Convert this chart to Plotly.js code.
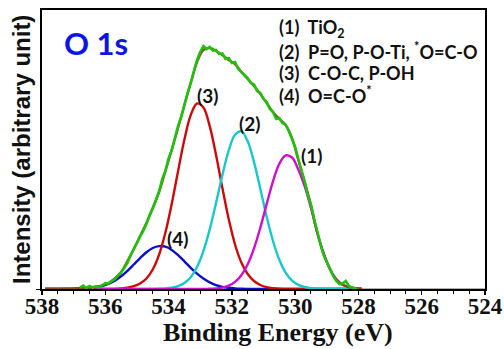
<!DOCTYPE html>
<html>
<head>
<meta charset="utf-8">
<script src="https://cdn.plot.ly/plotly-3.0.1.min.js"></script>
<style>html,body{margin:0;padding:0;background:#fff;}#chart{width:504px;height:349px;}</style>
</head>
<body>
<div id="chart"></div>
<script>
// Binding energy grid for fitted components (eV)
const fitEnergy = [537.9,537.7,537.5,537.3,537.1,536.9,536.7,536.5,536.3,536.1,535.9,535.7,535.5,535.3,535.1,534.9,534.7,534.5,534.3,534.1,533.9,533.7,533.5,533.3,533.1,532.9,532.7,532.5,532.3,532.1,531.9,531.7,531.5,531.3,531.1,530.9,530.7,530.5,530.3,530.1,529.9,529.7,529.5,529.3,529.1,528.9,528.7,528.5,528.3,528.1,527.9];
// (1) TiO2
const peak1 = [0,0,0,0,0,0,0,0,0,0,0,0,0,0,0,0,0,0,0,0,0,0,0,0,0,0,0.2,0.6,1.4,3.3,7.1,13.8,24.7,40.7,61.3,84.9,107.6,125.2,133.6,131.5,119.5,103,81,56,36,20,10,4.5,2.0,0.8,0.3];
// (2) P=O, P-O-Ti, *O=C-O
const peak2 = [0,0,0,0,0,0,0,0,0,0,0,0,0,0,0,0,0,0.1,0.2,0.5,1.2,2.8,6.0,11.8,22.0,37.8,59.6,86.0,113.9,138.4,154.2,157.6,147.7,126.9,100.1,72.3,48.0,29.2,16.3,8.3,4.2,2.0,0.9,0.3,0.1,0,0,0,0,0,0];
// (3) C-O-C, P-OH
const peak3 = [0,0,0,0,0,0,0,0,0,0,0,0.1,0.5,1.2,2.8,5.5,10.5,19.5,34.3,56.5,85.2,117.8,149.4,173.9,185.5,181.5,162.9,134.1,101.2,70.1,44.5,26.5,15,8,4,1.8,0.8,0.3,0.1,0,0,0,0,0,0,0,0,0,0,0,0];
// (4) O=C-O*
const peak4 = [0,0,0,0,0.1,0.2,0.4,0.8,1.6,3.0,5.1,8.3,12.7,18.2,24.5,30.9,36.7,41.0,42.9,42.3,39.1,33.9,27.7,21.2,15.3,10.4,6.6,3.9,2.2,1.2,0.6,0.3,0.1,0,0,0,0,0,0,0,0,0,0,0,0,0,0,0,0,0,0];
// Fitted envelope
const envelope = [0,0,0,0.2,0.4,0.7,1.0,1.5,2.2,3.5,6,10.5,17,28,40,53,66,81,97,118,139,161,184,206,227,239,241,238,234,229,225,217,210,203,195,186,177,170,164,151,129,107,84,56,35,20,9,4,2,0.5,0];
// Measured spectrum
const dataEnergy = [536.8,536.7,536.6,536.5,536.4,536.3,536.2,536.1,536.0,535.9,535.8,535.7,535.6,535.5,535.4,535.3,535.2,535.1,535.0,534.9,534.8,534.7,534.6,534.5,534.4,534.3,534.2,534.1,534.0,533.9,533.8,533.7,533.6,533.5,533.4,533.3,533.2,533.1,533.0,532.9,532.8,532.7,532.6,532.5,532.4,532.3,532.2,532.1,532.0,531.9,531.8,531.7,531.6,531.5,531.4,531.3,531.2,531.1,531.0,530.9,530.8,530.7,530.6,530.5,530.4,530.3,530.2,530.1,530.0,529.9,529.8,529.7,529.6,529.5,529.4,529.3,529.2,529.1,529.0,528.9,528.8,528.7,528.6,528.5,528.4,528.3,528.2,528.1,528.0];
const dataIntensity = [1.5,3.5,1.0,3.0,1.5,2.5,1.5,3.5,6.0,5.5,7.5,10.0,13.5,16.5,21.0,26.0,33.5,39.0,46.0,52.5,58.0,65.0,74.0,80.5,89.0,97.5,110.0,118.0,130.5,139.0,151.0,163.0,172.0,185.0,196.0,206.0,218.0,229.0,237.0,243.0,240.0,242.0,238.5,239.0,235.0,235.5,230.0,231.0,226.0,227.0,220.0,217.0,213.0,211.0,206.0,204.5,198.0,196.0,190.0,187.0,180.0,177.0,170.0,171.0,166.0,164.0,158.0,150.0,142.0,130.0,119.0,108.0,94.0,84.0,70.0,56.0,45.0,34.0,26.0,20.0,13.0,8.0,5.0,5.5,8.0,3.0,1.5,0.5,-1.5];
// Background baseline
const baselineEnergy = [537.5, 524];
const baselineIntensity = [0, 0];

const legendLines = [
  "(1)\u00a0\u00a0TiO<sub>2</sub>",
  "(2)\u00a0\u00a0P=O, P-O-Ti, <sup>*</sup>O=C-O",
  "(3)\u00a0\u00a0C-O-C, P-OH",
  "(4)\u00a0\u00a0O=C-O<sup>*</sup>"
];
const peakLabels = ["(1)", "(2)", "(3)", "(4)"];
const peakLabelX = [529.48, 531.44, 532.78, 533.72];
const peakLabelY = [134, 166, 194, 51];

const W = 2.4;
const traces = [
  {x: baselineEnergy, y: baselineIntensity, mode: 'lines', line: {color: '#9a9a9a', width: 1.5}},
  {x: fitEnergy, y: peak4, mode: 'lines', line: {color: '#0a10c8', width: W, shape: 'spline'}},
  {x: fitEnergy, y: peak3, mode: 'lines', line: {color: '#cc0a0a', width: W, shape: 'spline'}},
  {x: fitEnergy, y: peak2, mode: 'lines', line: {color: '#18c8cc', width: W, shape: 'spline'}},
  {x: fitEnergy, y: peak1, mode: 'lines', line: {color: '#cc10cc', width: W, shape: 'spline'}},
  {x: fitEnergy, y: envelope, mode: 'lines', line: {color: '#8b4a16', width: W, shape: 'spline'}},
  {x: dataEnergy, y: dataIntensity, mode: 'lines', line: {color: '#22c010', width: 2.6}}
];

const px2paperX = p => (p - 42) / 443;
const px2paperY = p => (289 - p) / 279;
const sans = 'Lato, "Open Sans", sans-serif';

const annotations = [];
legendLines.forEach((t, i) => {
  annotations.push({xref: 'paper', yref: 'paper', x: px2paperX(277), y: px2paperY([28, 51, 73, 95][i]),
    xanchor: 'left', yanchor: 'middle', showarrow: false, text: t,
    font: {family: sans, size: 18, color: '#111', weight: 'bold'}});
});
peakLabels.forEach((t, i) => {
  annotations.push({x: peakLabelX[i], y: peakLabelY[i], xref: 'x', yref: 'y', showarrow: false, text: t,
    xanchor: 'center', yanchor: 'middle', font: {family: sans, size: 19, color: '#111', weight: 'bold'}});
});
annotations.push({xref: 'paper', yref: 'paper', x: px2paperX(96), y: px2paperY(43), xanchor: 'center', yanchor: 'middle',
  showarrow: false, text: 'O 1s', font: {family: sans, size: 31, color: '#0a14e6', weight: 'bold'}});
annotations.push({xref: 'paper', yref: 'paper', x: px2paperX(21), y: px2paperY(150), xanchor: 'center', yanchor: 'middle',
  showarrow: false, textangle: -90, text: 'Intensity (arbitrary unit)',
  font: {family: '"Liberation Sans", Arial, sans-serif', size: 24, color: '#111', weight: 'bold'}});
annotations.push({xref: 'paper', yref: 'paper', x: px2paperX(278), y: px2paperY(332), xanchor: 'center', yanchor: 'middle',
  showarrow: false, text: 'Binding Energy (eV)',
  font: {family: '"Liberation Serif", "Times New Roman", serif', size: 26, color: '#111', weight: 'bold'}});

const layout = {
  width: 504, height: 349,
  margin: {l: 42, r: 19, t: 10, b: 60},
  paper_bgcolor: '#fff', plot_bgcolor: '#fff',
  showlegend: false,
  xaxis: {
    range: [538, 524], autorange: false,
    tickmode: 'linear', tick0: 524, dtick: 2,
    ticks: 'outside', ticklen: 4, tickwidth: 1.5, tickcolor: '#000',
    ticklabelstandoff: -9,
    minor: {dtick: 0.5, tick0: 524, ticks: 'outside', ticklen: 3, tickwidth: 1, tickcolor: '#000'},
    showline: true, linecolor: '#000', linewidth: 2, mirror: true,
    showgrid: false, zeroline: false,
    tickfont: {family: '"Liberation Serif", "Times New Roman", serif', size: 23, color: '#111', weight: 'bold'}
  },
  yaxis: {
    range: [0, 279], autorange: false,
    showticklabels: false, tickmode: 'array', tickvals: [0], ticks: 'outside', ticklen: 4, tickcolor: '#000',
    showline: true, linecolor: '#000', linewidth: 2, mirror: true,
    showgrid: false, zeroline: false
  },
  annotations: annotations
};

Plotly.newPlot('chart', traces, layout, {displayModeBar: false, staticPlot: true});
</script>
</body>
</html>
